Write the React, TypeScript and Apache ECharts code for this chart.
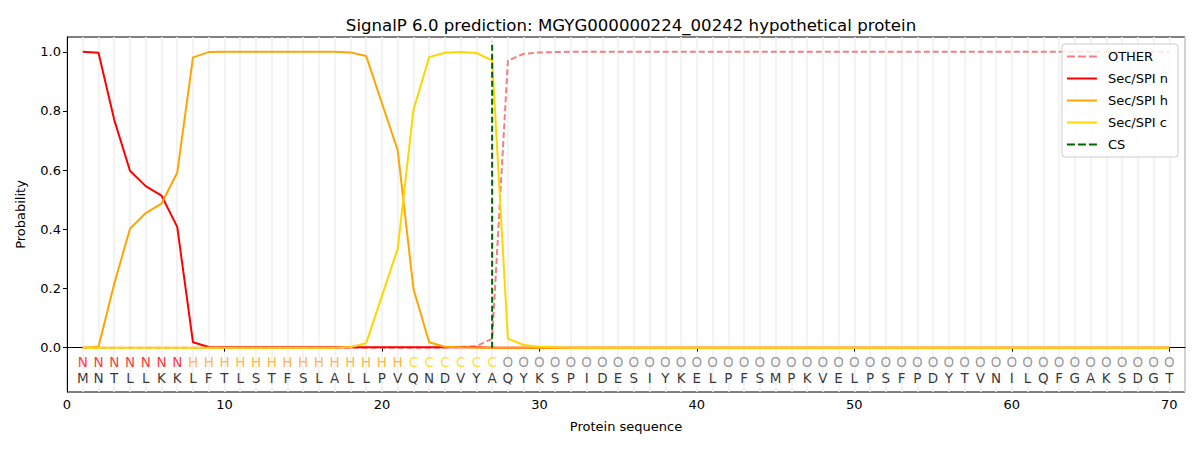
import React, { useEffect, useRef } from "react";
import * as echarts from "echarts";

const sequence = ["M","N","T","L","L","K","K","L","F","T","L","S","T","F","S","L","A","L","L","P","V","Q","N","D","V","Y","A","Q","Y","K","S","P","I","D","E","S","I","Y","K","E","L","P","F","S","M","P","K","V","E","L","P","S","F","P","D","Y","T","V","N","I","L","Q","F","G","A","K","S","D","G","T"];
const regions = ["N","N","N","N","N","N","N","H","H","H","H","H","H","H","H","H","H","H","H","H","H","C","C","C","C","C","C","O","O","O","O","O","O","O","O","O","O","O","O","O","O","O","O","O","O","O","O","O","O","O","O","O","O","O","O","O","O","O","O","O","O","O","O","O","O","O","O","O","O","O"];

const otherVals = [0,0,0,0,0,0,0,0,0,0, 0,0,0,0,0,0,0,0,0,0, 0,0,0,0,0.002,0.005,0.03,0.97,0.993,0.998, 0.999,1,1,1,1,1,1,1,1,1, 1,1,1,1,1,1,1,1,1,1, 1,1,1,1,1,1,1,1,1,1, 1,1,1,1,1,1,1,1,1,1];
const nVals = [1.0,0.997,0.77,0.598,0.546,0.514,0.408,0.018,0.002,0.001, 0.001,0.001,0.001,0.001,0.001,0.001,0.001,0.001,0.001,0.001, 0.001,0.001,0.001,0.001,0.001,0.001,0,0,0,0, 0,0,0,0,0,0,0,0,0,0, 0,0,0,0,0,0,0,0,0,0, 0,0,0,0,0,0,0,0,0,0, 0,0,0,0,0,0,0,0,0,0];
const hVals = [0,0.003,0.216,0.402,0.455,0.487,0.591,0.981,0.999,1.0, 1.0,1.0,1.0,1.0,1.0,1.0,1.0,0.998,0.986,0.826, 0.668,0.199,0.018,0.003,0.001,0,0,0,0,0, 0,0,0,0,0,0,0,0,0,0, 0,0,0,0,0,0,0,0,0,0, 0,0,0,0,0,0,0,0,0,0, 0,0,0,0,0,0,0,0,0,0];
const cVals = [0,0,0,0,0,0,0,0,0,0, 0,0,0,0,0,0,0,0.002,0.015,0.175, 0.334,0.803,0.982,0.997,0.999,0.996,0.971,0.03,0.009,0.003, 0.001,0,0,0,0,0,0,0,0,0, 0,0,0,0,0,0,0,0,0,0, 0,0,0,0,0,0,0,0,0,0, 0,0,0,0,0,0,0,0,0,0];
const csPos = 27;
const csTop = 1.035;

const xTicks = [0, 10, 20, 30, 40, 50, 60, 70];
const yTicks = [0, 0.2, 0.4, 0.6, 0.8, 1.0];

const regionColors: Record<string, string> = { N: "#ff0000", H: "#ffa500", C: "#ffd700", O: "#808080" };
const FONT = "DejaVu Sans";
const SOLID_ICON = "path://M0,0h30v2h-30z";
const DASH_ICON = "path://M0,0h8v2h-8z M11,0h8v2h-8z M22,0h8v2h-8z";

export default function App() {
  const ref = useRef<HTMLDivElement>(null);
  useEffect(() => {
    if (!ref.current) return;
    const chart = echarts.init(ref.current, null, { renderer: "svg" });
    const pos = sequence.map((_, i) => i + 1);
    const lineData = (vals: number[]) => vals.map((v, i) => [pos[i], v]);
    const regionData = regions.map((r, i) => ({
      value: [pos[i], -0.047],
      label: { formatter: r, color: regionColors[r] },
    }));
    const seqData = sequence.map((s, i) => ({
      value: [pos[i], -0.102],
      label: { formatter: s, color: "#000" },
    }));
    const textSeries = (name: string, data: any[]) => ({
      name,
      type: "scatter",
      data,
      symbolSize: 10,
      itemStyle: { color: "rgba(0,0,0,0)" },
      label: { show: true, position: "inside", fontSize: 13.5, fontFamily: FONT },
      silent: true,
      z: 5,
    });
    chart.setOption({
      animation: false,
      textStyle: { fontFamily: FONT },
      title: {
        text: "SignalP 6.0 prediction: MGYG000000224_00242 hypothetical protein",
        left: 626,
        textAlign: "center",
        top: 12,
        textStyle: { fontSize: 16.6, fontWeight: "normal", color: "#000", fontFamily: FONT },
      },
      grid: { left: 67, right: 15, top: 37, bottom: 58, show: true, borderColor: "#000", borderWidth: 1, backgroundColor: "transparent" },
      legend: {
        data: [
          { name: "OTHER", icon: DASH_ICON },
          { name: "Sec/SPI n", icon: SOLID_ICON },
          { name: "Sec/SPI h", icon: SOLID_ICON },
          { name: "Sec/SPI c", icon: SOLID_ICON },
          { name: "CS", icon: DASH_ICON },
        ],
        orient: "vertical",
        right: 22,
        top: 44,
        itemWidth: 30,
        itemHeight: 14,
        itemGap: 7,
        padding: [5, 10, 5, 5],
        backgroundColor: "rgba(255,255,255,0.8)",
        borderColor: "#cccccc",
        borderWidth: 1,
        borderRadius: 3,
        textStyle: { fontSize: 13, color: "#000", fontFamily: FONT, padding: [0, 0, 0, 6], lineHeight: 15 },
      },
      xAxis: [
        {
          type: "value",
          min: 0,
          max: 71,
          name: "Protein sequence",
          nameLocation: "middle",
          nameGap: 28,
          nameTextStyle: { fontSize: 13, color: "#000", fontFamily: FONT },
          axisLine: { show: true, lineStyle: { color: "#000" } },
          axisTick: { show: true, length: 4, lineStyle: { color: "#000" }, customValues: xTicks },
          axisLabel: { color: "#000", fontSize: 13, margin: 6, customValues: xTicks, fontFamily: FONT },
          splitLine: { show: false },
        },
        {
          type: "value",
          min: 0,
          max: 71,
          interval: 1,
          position: "bottom",
          axisLine: { show: false },
          axisTick: { show: false },
          axisLabel: { show: false },
          splitLine: { show: true, lineStyle: { color: "#efefef", width: 1.5 } },
        },
      ],
      yAxis: {
        type: "value",
        min: -0.15,
        max: 1.05,
        name: "Probability",
        nameLocation: "middle",
        nameGap: 40,
        nameTextStyle: { fontSize: 13, color: "#000", fontFamily: FONT },
        axisLine: { show: true, lineStyle: { color: "#000" } },
        axisTick: { show: true, length: 4, lineStyle: { color: "#000" }, customValues: yTicks },
        axisLabel: { color: "#000", fontSize: 13, margin: 6, customValues: yTicks, formatter: (v: number) => v.toFixed(1), fontFamily: FONT },
        splitLine: { show: false },
      },
      series: [
        { name: "OTHER", type: "line", data: lineData(otherVals), symbol: "none", lineStyle: { color: "#f08080", width: 2, type: [6, 3] }, itemStyle: { color: "#f08080" }, z: 2 },
        { name: "Sec/SPI n", type: "line", data: lineData(nVals), symbol: "none", lineStyle: { color: "#ff0000", width: 2 }, itemStyle: { color: "#ff0000" }, z: 3 },
        { name: "Sec/SPI h", type: "line", data: lineData(hVals), symbol: "none", lineStyle: { color: "#ffa500", width: 2 }, itemStyle: { color: "#ffa500" }, z: 3 },
        { name: "Sec/SPI c", type: "line", data: lineData(cVals), symbol: "none", lineStyle: { color: "#ffd700", width: 2 }, itemStyle: { color: "#ffd700" }, z: 3 },
        { name: "CS", type: "line", data: [[csPos, 0], [csPos, csTop]], symbol: "none", lineStyle: { color: "#006400", width: 2, type: [6, 3] }, itemStyle: { color: "#006400" }, z: 4 },
        textSeries("regions", regionData),
        textSeries("seq", seqData),
      ],
    });
    return () => chart.dispose();
  }, []);
  return <div ref={ref} style={{ width: 1200, height: 450, position: "absolute", left: 0, top: 0 }} />;
}
